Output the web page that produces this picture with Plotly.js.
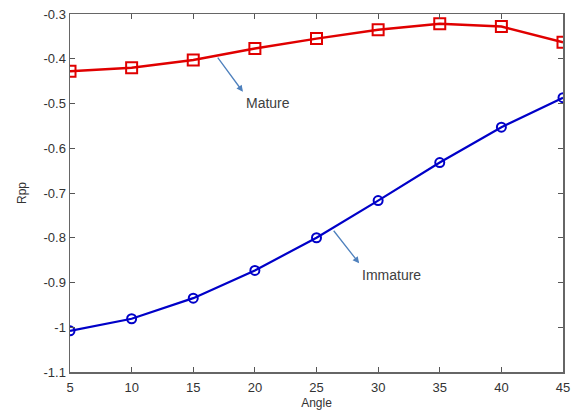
<!DOCTYPE html>
<html><head><meta charset="utf-8">
<script src="https://cdn.plot.ly/plotly-3.0.1.min.js"></script>
<style>html,body{margin:0;padding:0;background:#fff}#c{width:576px;height:416px}</style>
</head><body><div id="c"></div>
<script>
const angles = [5, 10, 15, 20, 25, 30, 35, 40, 45];
const matureRpp = [-0.428, -0.420, -0.403, -0.377, -0.355, -0.335, -0.322, -0.328, -0.363];
const immatureRpp = [-1.008, -0.981, -0.935, -0.873, -0.800, -0.717, -0.632, -0.553, -0.487];
const xTicks = [5, 10, 15, 20, 25, 30, 35, 40, 45];
const yTicks = [-1.1, -1.0, -0.9, -0.8, -0.7, -0.6, -0.5, -0.4, -0.3];
const yTickText = ['-1.1', '-1', '-0.9', '-0.8', '-0.7', '-0.6', '-0.5', '-0.4', '-0.3'];

const traces = [
  {x: angles, y: matureRpp, mode: 'lines+markers', name: 'Mature',
   line: {color: '#e00000', width: 2.5},
   marker: {symbol: 'square-open', size: 11, color: '#e00000', line: {width: 2}}},
  {x: angles, y: immatureRpp, mode: 'lines+markers', name: 'Immature',
   line: {color: '#0000c8', width: 2.2},
   marker: {symbol: 'circle-open', size: 9, color: '#0000c8', line: {width: 2}}}
];
const fontFam = 'Liberation Sans, Arial, sans-serif';
const layout = {
  width: 576, height: 416,
  margin: {l: 70, r: 13, t: 14, b: 44},
  paper_bgcolor: '#fff', plot_bgcolor: '#fff',
  showlegend: false,
  font: {family: fontFam, size: 13, color: '#333'},
  xaxis: {range: [5, 45], tickvals: xTicks, ticks: 'inside', ticklen: 5, tickcolor: '#555',
    showline: true, linecolor: '#666', linewidth: 1.5, mirror: 'ticks', showgrid: false, zeroline: false,
    ticklabelstandoff: 3,
    title: {text: 'Angle', font: {size: 12, color: '#333'}, standoff: 4},
    tickfont: {size: 13, color: '#333'}},
  yaxis: {range: [-1.1, -0.3], tickvals: yTicks, ticktext: yTickText, ticks: 'inside', ticklen: 5, tickcolor: '#555',
    showline: true, linecolor: '#666', linewidth: 1.5, mirror: 'ticks', showgrid: false, zeroline: false,
    title: {text: 'Rpp', font: {size: 12, color: '#333'}, standoff: 14},
    tickfont: {size: 13, color: '#333'}},
  annotations: [
    {x: 19.03, y: -0.474, ax: 16.9, ay: -0.394, axref: 'x', ayref: 'y', xref: 'x', yref: 'y',
     showarrow: true, arrowhead: 2, arrowsize: 1, arrowwidth: 1.3, arrowcolor: '#4f81bd', text: ''},
    {x: 19.15, y: -0.499, xref: 'x', yref: 'y', text: 'Mature', showarrow: false, xanchor: 'left', yanchor: 'middle',
     font: {family: fontFam, size: 14, color: '#404040'}},
    {x: 28.46, y: -0.857, ax: 26.3, ay: -0.781, axref: 'x', ayref: 'y', xref: 'x', yref: 'y',
     showarrow: true, arrowhead: 2, arrowsize: 1, arrowwidth: 1.3, arrowcolor: '#4f81bd', text: ''},
    {x: 28.5, y: -0.883, xref: 'x', yref: 'y', text: 'Immature', showarrow: false, xanchor: 'left', yanchor: 'middle',
     font: {family: fontFam, size: 14, color: '#404040'}}
  ]
};
Plotly.newPlot('c', traces, layout, {staticPlot: true});
</script></body></html>
